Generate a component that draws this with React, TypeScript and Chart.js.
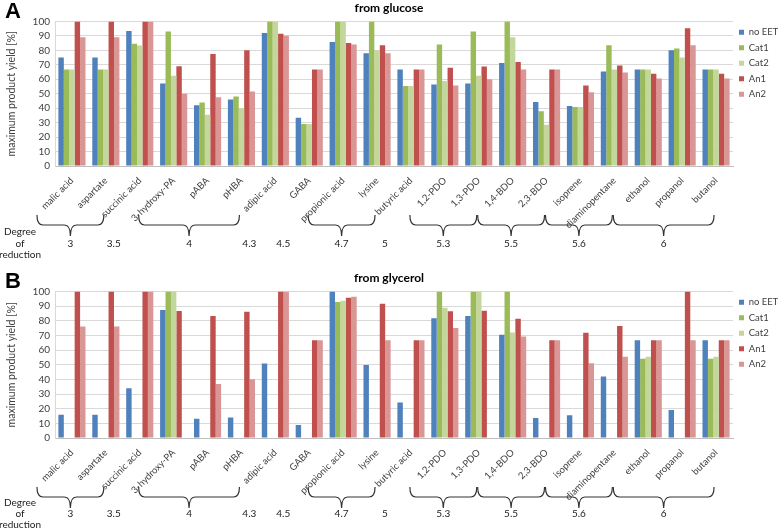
import React, { useEffect, useRef } from "react";
import { Chart, registerables } from "chart.js";

Chart.register(...registerables);

const categories = [
  "malic acid", "aspartate", "succinic acid", "3-hydroxy-PA", "pABA", "pHBA",
  "adipic acid", "GABA", "propionic acid", "lysine", "butyric acid", "1,2-PDO",
  "1,3-PDO", "1,4-BDO", "2,3-BDO", "isoprene", "diaminopentane", "ethanol",
  "propanol", "butanol",
];
const seriesNames = ["no EET", "Cat1", "Cat2", "An1", "An2"];
const seriesColors = ["#4F81BD", "#9BBB59", "#C3D69B", "#C0504D", "#D99694"];

// from glucose
const glucoseNoEET = [75, 75, 93.3, 57, 42, 46, 92, 33.3, 85.7, 78, 66.7, 56.4, 57, 71.3, 44.3, 41.5, 65.4, 66.7, 80, 66.7];
const glucoseCat1 = [66.7, 66.7, 84.6, 93, 44, 48, 100, 29, 100, 100, 55.3, 84, 93, 100, 37.8, 40.8, 83.5, 66.7, 81.2, 66.7];
const glucoseCat2 = [66.7, 66.7, 83.3, 62.5, 35.5, 40, 100, 29, 100, 80, 55.3, 58.7, 62.4, 89, 28.5, 40.8, 66.7, 66.7, 75, 66.7];
const glucoseAn1 = [100, 100, 100, 69, 77.5, 80, 91.5, 66.7, 85, 83.5, 66.7, 68, 68.8, 72, 66.7, 55.7, 69.5, 63.8, 95.2, 63.8];
const glucoseAn2 = [89, 89, 100, 50, 47.5, 51.5, 90, 66.7, 84, 78, 66.7, 55.7, 60, 66.7, 66.7, 51, 64.7, 60.5, 83.5, 60.5];

// from glycerol
const glycerolNoEET = [15.9, 15.9, 34, 87.3, 13.2, 13.9, 50.9, 8.9, 100, 49.8, 24.3, 81.6, 83.2, 70.5, 13.6, 15.5, 42, 66.7, 19.1, 66.7];
const glycerolCat1 = [0, 0, 0, 100, 0, 0, 0, 0, 92.7, 0, 0, 100, 100, 100, 0, 0, 0, 54, 0, 54];
const glycerolCat2 = [0, 0, 0, 100, 0, 0, 0, 0, 93.6, 0, 0, 88.9, 100, 72, 0, 0, 0, 55.4, 0, 55.4];
const glycerolAn1 = [100, 100, 100, 86.7, 83.2, 86.1, 100, 66.7, 95.7, 91.6, 66.7, 86.4, 86.8, 81.4, 66.7, 71.8, 76.4, 66.7, 100, 66.7];
const glycerolAn2 = [76, 76, 100, 0, 36.8, 40, 100, 66.7, 96.4, 66.6, 66.7, 75, 0, 69.3, 66.7, 51, 55.5, 66.7, 66.7, 66.7];

// degree of reduction groups (category index ranges)
const reductionLabels = ["3", "3.5", "4", "4.3", "4.5", "4.7", "5", "5.3", "5.5", "5.6", "6"];
const reductionFirst = [0, 2, 3, 6, 7, 8, 10, 11, 13, 15, 17];
const reductionLast = [1, 2, 5, 6, 7, 9, 10, 12, 14, 16, 19];

const FONT = 'Lato, "Liberation Sans", sans-serif';
const TEXT = "#404040";

const reductionPlugin = {
  id: "reduction",
  afterDraw(chart: any, _args: any, opts: any) {
    const { ctx, chartArea } = chart;
    const x = chart.scales.x;
    const bottom = chartArea.bottom;
    const dy: number[] = opts.degreeY || [66, 78, 89];
    ctx.save();
    // panel letter
    ctx.fillStyle = "#000";
    ctx.font = `bold 22px "Liberation Sans", Arial, sans-serif`;
    ctx.textAlign = "left";
    ctx.textBaseline = "top";
    ctx.fillText(opts.letter || "", 5, 1);

    ctx.fillStyle = "#222";
    ctx.font = `10px ${FONT}`;
    ctx.textAlign = "center";
    ctx.textBaseline = "middle";
    ctx.fillText("Degree", 20, bottom + dy[0]);
    ctx.fillText("of", 20, bottom + dy[1]);
    ctx.fillText("reduction", 20, bottom + dy[2]);

    ctx.strokeStyle = "#333";
    ctx.lineWidth = 1.2;
    for (let i = 0; i < reductionLabels.length; i++) {
      const f = reductionFirst[i];
      const l = reductionLast[i];
      if (f === l) {
        const cx = x.getPixelForValue(f) - 26;
        ctx.fillText(reductionLabels[i], cx, bottom + dy[1]);
      } else {
        const x1 = x.getPixelForValue(f) - 35;
        const x2 = x.getPixelForValue(l) - 2;
        const mid = (x1 + x2) / 2;
        const top = bottom + 49;
        const h = bottom + 59;
        const p = bottom + 70;
        const r = 6;
        ctx.beginPath();
        ctx.moveTo(x1, top);
        ctx.quadraticCurveTo(x1, h, x1 + r, h);
        ctx.lineTo(mid - r, h);
        ctx.quadraticCurveTo(mid, h, mid, p);
        ctx.quadraticCurveTo(mid, h, mid + r, h);
        ctx.lineTo(x2 - r, h);
        ctx.quadraticCurveTo(x2, h, x2, top);
        ctx.stroke();
        ctx.fillText(reductionLabels[i], mid, bottom + dy[1]);
      }
    }
    ctx.restore();
  },
};

function Panel(props: {
  letter: string;
  title: string;
  series: number[][];
  height: number;
  bottomSpace: number;
  degreeY: number[];
}) {
  const ref = useRef<HTMLCanvasElement | null>(null);
  useEffect(() => {
    if (!ref.current) return;
    const xHeight = props.bottomSpace;
    const chart = new Chart(ref.current, {
      type: "bar",
      data: {
        labels: categories,
        datasets: seriesNames.map((name, i) => ({
          label: name,
          data: props.series[i],
          backgroundColor: seriesColors[i],
          borderWidth: 0,
          categoryPercentage: 0.8,
          barPercentage: 1.0,
        })),
      },
      options: {
        responsive: false,
        animation: false,
        devicePixelRatio: 1,
        layout: { padding: { left: 0, right: 0, top: 0, bottom: 0 } },
        plugins: {
          title: {
            display: true,
            text: props.title,
            color: "#000",
            font: { family: FONT, size: 12, weight: "bold" },
            padding: { top: 1, bottom: 6 },
          },
          legend: {
            display: true,
            position: "right",
            align: "start",
            fullSize: false,
            maxWidth: 45,
            labels: {
              boxWidth: 5,
              boxHeight: 5,
              padding: 6,
              color: TEXT,
              font: { family: FONT, size: 9.5 },
            },
          },
          tooltip: { enabled: false },
          reduction: { letter: props.letter, degreeY: props.degreeY },
        } as any,
        scales: {
          x: {
            grid: { display: false },
            border: { display: true, color: "#BFBFBF" },
            ticks: {
              autoSkip: false,
              maxRotation: 45,
              minRotation: 45,
              padding: 1,
              color: TEXT,
              font: { family: FONT, size: 9.5 },
            },
            afterFit: (scale: any) => {
              scale.height = xHeight;
            },
          },
          y: {
            min: 0,
            max: 100,
            grid: { color: "#D9D9D9", drawTicks: false },
            border: { display: true, color: "#D9D9D9" },
            ticks: {
              stepSize: 10,
              autoSkip: false,
              padding: 5,
              color: TEXT,
              font: { family: FONT, size: 10 },
            },
            title: {
              display: true,
              text: "maximum product yield [%]",
              color: TEXT,
              font: { family: FONT, size: 10.5 },
              padding: { top: 5, bottom: 0 },
            },
            afterFit: (scale: any) => {
              scale.width = 55;
            },
          },
        },
      } as any,
      plugins: [reductionPlugin],
    });
    return () => chart.destroy();
  }, []);
  return <canvas ref={ref} width={778} height={props.height} style={{ display: "block" }} />;
}

export default function App() {
  return (
    <div style={{ position: "absolute", left: 0, top: 0, width: 778, height: 531, background: "#fff" }}>
      <Panel
        letter="A"
        title="from glucose"
        series={[glucoseNoEET, glucoseCat1, glucoseCat2, glucoseAn1, glucoseAn2]}
        height={270}
        bottomSpace={104}
        degreeY={[66, 78, 89]}
      />
      <Panel
        letter="B"
        title="from glycerol"
        series={[glycerolNoEET, glycerolCat1, glycerolCat2, glycerolAn1, glycerolAn2]}
        height={261}
        bottomSpace={93}
        degreeY={[65, 76, 87]}
      />
    </div>
  );
}
